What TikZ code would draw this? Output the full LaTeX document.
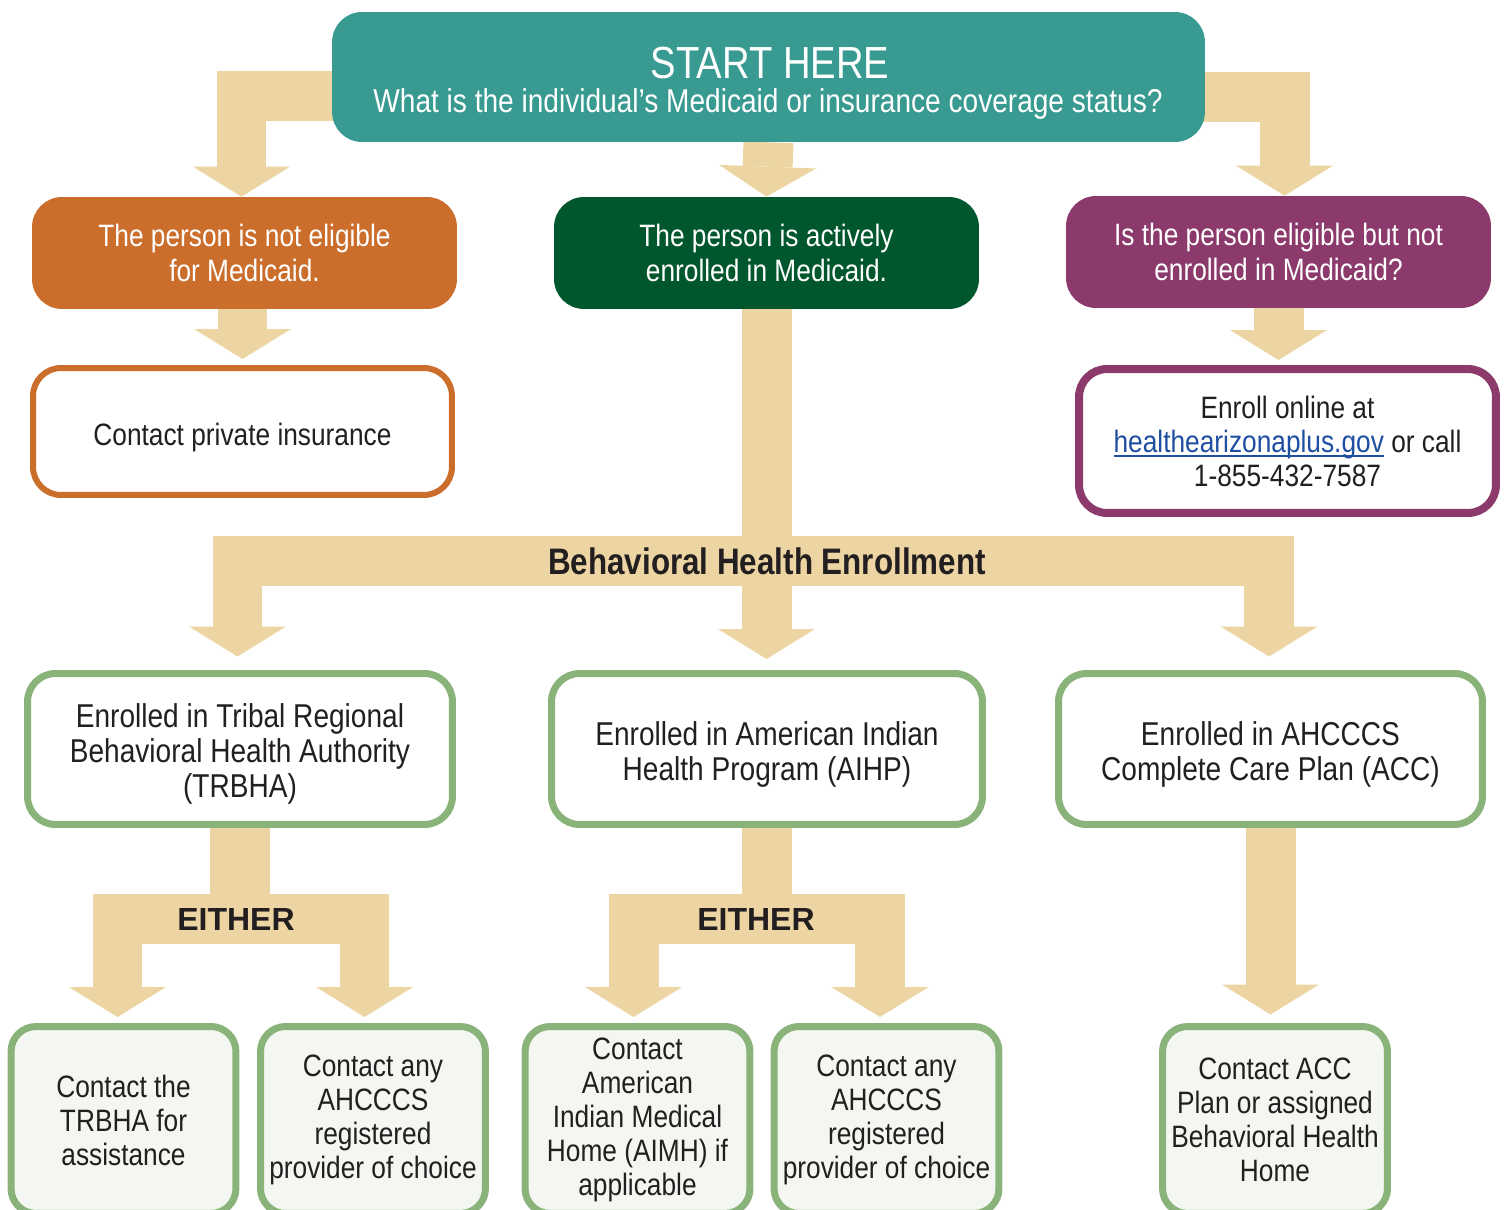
\documentclass[tikz,border=0pt]{standalone}
\usepackage{fontspec}
\setmainfont{Liberation Sans}[FakeStretch=0.85]
\newfontfamily\wideface{Liberation Sans}
\usetikzlibrary{arrows.meta,backgrounds}

\definecolor{startteal}{HTML}{389A91}
\definecolor{arrowtan}{HTML}{ECD5A2}
\definecolor{notorange}{HTML}{CB6D2B}
\definecolor{activegreen}{HTML}{00572D}
\definecolor{eligpurple}{HTML}{8B3A6B}
\definecolor{planborder}{HTML}{8AB37A}
\definecolor{contactfill}{HTML}{F4F6F1}
\definecolor{inktext}{HTML}{231F20}
\definecolor{linkblue}{HTML}{1F4FA0}

\newcommand\startsize{\fontsize{25.6}{28}\selectfont}
\newcommand\questionsize{\fontsize{18.8}{20}\selectfont}
\newcommand\statussize{\fontsize{17.6}{19.9}\selectfont}
\newcommand\planboxsize{\fontsize{18.8}{19.9}\selectfont}
\newcommand\contactsize{\fontsize{17.6}{19.35}\selectfont}
\newcommand\bandsize{\fontsize{21}{23}\selectfont}
\newcommand\eithersize{\fontsize{18.2}{20}\selectfont}
% blue link with a close underline
\newcommand\weblink[1]{\textcolor{linkblue}{\setbox0\hbox{#1}\rlap{\rule[-2.6pt]{\wd0}{1pt}}\box0}}

\tikzset{
  statusbox/.style={rounded corners=0.6cm, minimum width=8.5cm, minimum height=2.24cm,
    text=white, align=center, inner sep=0pt, font=\statussize},
  outlinebox/.style={rounded corners=0.56cm, draw, fill=white, text=inktext,
    align=center, inner sep=0pt},
  planbox/.style={outlinebox, draw=planborder, line width=0.14cm, minimum height=3.02cm,
    font=\planboxsize},
  contactbox/.style={outlinebox, draw=planborder, fill=contactfill, line width=0.14cm,
    rounded corners=0.5cm, minimum width=4.5cm, minimum height=3.74cm, font=\contactsize},
  bandlabel/.style={text=inktext, inner sep=0pt},
  shaft/.style={draw=arrowtan, line width=1cm},
  bigarrow/.style={shaft, line join=miter, shorten >=0.12cm,
    -{Triangle[length=0.6cm, width=1.94cm, line width=0pt]}},
}

\begin{document}
\begin{tikzpicture}[x=0.02cm, y=-0.02cm]

\useasboundingbox (0,0) rectangle (1509,1210);
\clip (0,0) rectangle (1509,1210);

% start box
\node[fill=startteal, rounded corners=0.6cm, minimum width=17.46cm, minimum height=2.6cm,
  inner sep=0pt] (start) at (768.5,77) {};
\node[text=white, anchor=base, inner sep=0pt, font=\startsize] (starttitle) at (770,78) {START HERE};
\node[text=white, anchor=base, inner sep=0pt, font=\questionsize] (startq) at (768,112)
  {What is the individual’s Medicaid or insurance coverage status?};

% coverage status
\node[statusbox, fill=notorange] (noelig) at (244.5,253) {The person is not eligible\\for Medicaid.};
\node[statusbox, fill=activegreen] (active) at (766.5,253) {The person is actively\\enrolled in Medicaid.};
\node[statusbox, fill=eligpurple] (notenr) at (1278.5,252) {Is the person eligible but not\\enrolled in Medicaid?};

\node[outlinebox, draw=notorange, line width=0.12cm, minimum width=8.38cm, minimum height=2.54cm,
  font=\contactsize, text height=16pt, text depth=0pt] (private) at (242.5,431.5) {Contact private insurance};
\node[outlinebox, draw=eligpurple, line width=0.16cm, minimum width=8.34cm, minimum height=2.88cm,
  font=\contactsize] (enroll) at (1287.5,441)
  {Enroll online at\\\weblink{healthearizonaplus.gov} or call\\1-855-432-7587};

% behavioral health enrollment
\node[bandlabel, font=\bandsize\bfseries] (bhe) at (767,561) {Behavioral Health Enrollment};

\node[planbox, minimum width=8.5cm, text height=59pt] (trbha) at (240,749)
  {Enrolled in Tribal Regional\\Behavioral Health Authority\\(TRBHA)};
\node[planbox, minimum width=8.62cm, text height=39.3pt] (aihp) at (767,749)
  {Enrolled in American Indian\\Health Program (AIHP)};
\node[planbox, minimum width=8.48cm, text height=39.3pt] (acc) at (1270.5,749)
  {Enrolled in AHCCCS\\Complete Care Plan (ACC)};

\node[bandlabel, font=\wideface\eithersize\bfseries] (either1) at (236,919) {EITHER};
\node[bandlabel, font=\wideface\eithersize\bfseries] (either2) at (756,919) {EITHER};

% whom to contact
\node[contactbox] (trbhahelp) at (123.5,1120) {Contact the\\TRBHA for\\assistance};
\node[contactbox] (anyprov1) at (373,1120) {Contact any\\AHCCCS\\registered\\provider of choice};
\node[contactbox] (aimh) at (637.5,1120) {Contact\\American\\Indian Medical\\Home (AIMH) if\\applicable};
\node[contactbox] (anyprov2) at (886.5,1120) {Contact any\\AHCCCS\\registered\\provider of choice};
\node[contactbox] (acchome) at (1275,1120) {Contact ACC\\Plan or assigned\\Behavioral Health\\Home};

% block arrows, kept behind the boxes
\begin{scope}[on background layer]
\draw[bigarrow, shorten >=0pt] ([xshift=1cm, yshift=-0.38cm]start.west) -| ([xshift=-0.06cm]noelig.north);
\draw[bigarrow, shorten >=0pt] (start.south) -- (active.north);
\draw[bigarrow, shorten >=0pt] ([xshift=-1cm, yshift=-0.4cm]start.east) -| ([xshift=0.12cm]notenr.north);

\draw[bigarrow] (private.north |- noelig.south) -- (private.north);
\draw[bigarrow, shorten >=0.1cm] (notenr.south) -- (notenr.south |- enroll.north);

\draw[bigarrow, shorten >=0.22cm] (active.south) -- (active.south |- aihp.north);
\draw[bigarrow, shorten >=0.27cm] (active.south |- bhe.center) -| ([xshift=-0.05cm]trbha.north);
\draw[bigarrow, shorten >=0.27cm] (active.south |- bhe.center) -| ([xshift=-0.03cm]acc.north);

% either / or
\draw[shaft, line width=1.2cm] (trbha.south) -- (trbha.south |- either1.center);
\draw[bigarrow] (trbha.south |- either1.center) -| ([xshift=-0.12cm]trbhahelp.north);
\draw[bigarrow] (trbha.south |- either1.center) -| ([xshift=-0.17cm]anyprov1.north);

\draw[shaft] (aihp.south) -- (aihp.south |- either2.center);
\draw[bigarrow] (aihp.south |- either2.center) -| ([xshift=-0.08cm]aimh.north);
\draw[bigarrow] (aihp.south |- either2.center) -| ([xshift=-0.13cm]anyprov2.north);

\draw[bigarrow, shorten >=0.17cm] (acc.south) -- (acc.south |- acchome.north);
\end{scope}

\end{tikzpicture}
\end{document}
